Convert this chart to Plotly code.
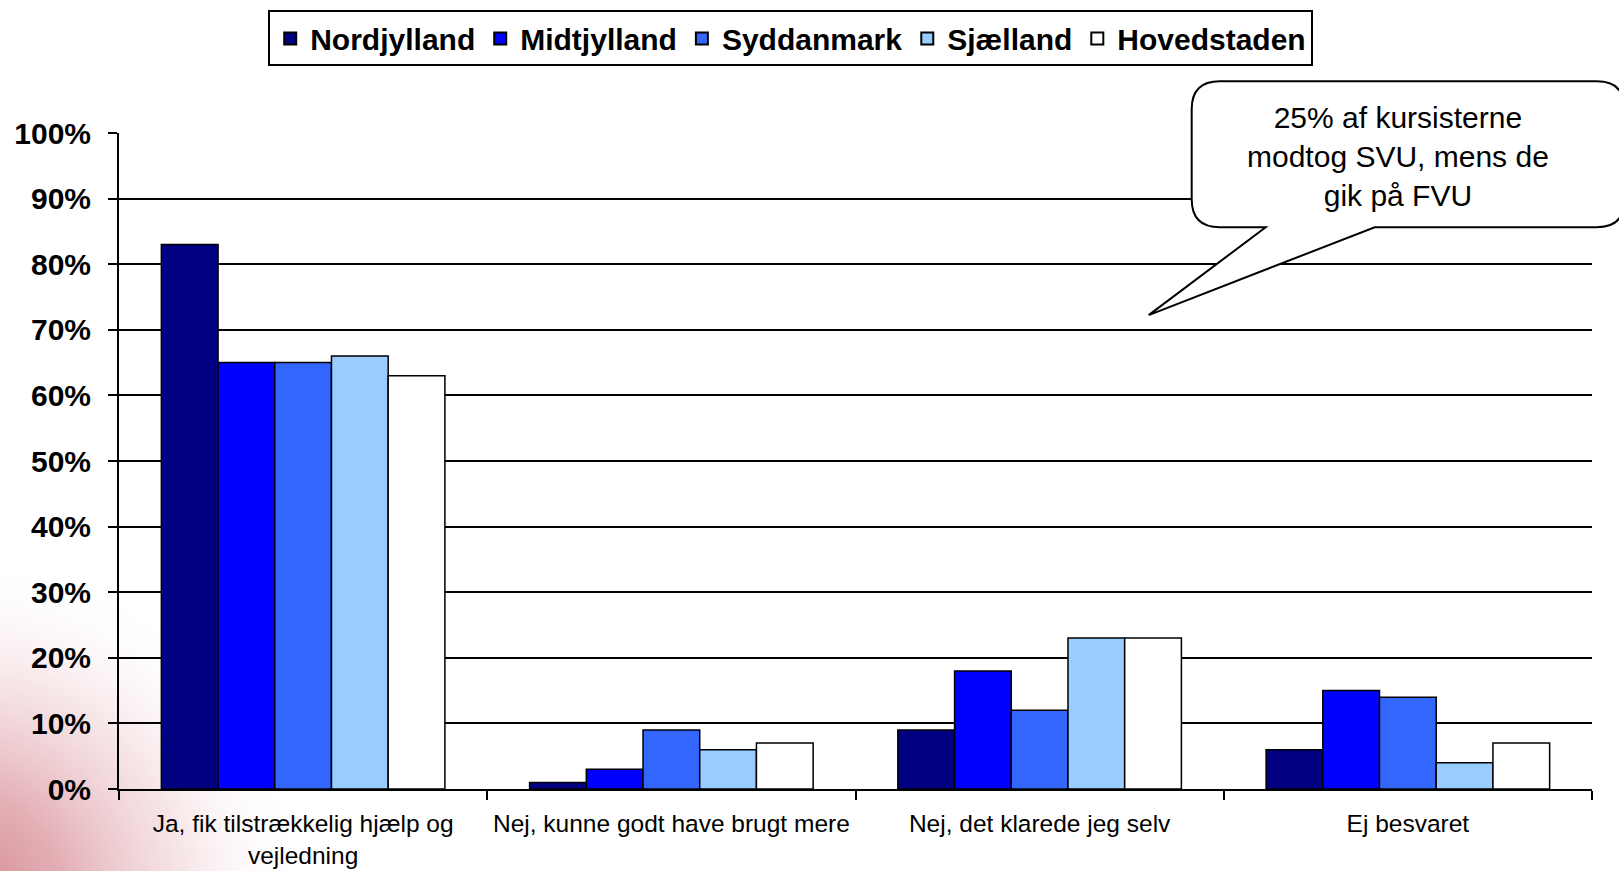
import base64
import plotly.graph_objects as go

categories = [
    "Ja, fik tilstrækkelig hjælp og<br>vejledning",
    "Nej, kunne godt have brugt mere",
    "Nej, det klarede jeg selv",
    "Ej besvaret",
]
regions = ["Nordjylland", "Midtjylland", "Syddanmark", "Sjælland", "Hovedstaden"]
nordjylland = [0.83, 0.01, 0.09, 0.06]
midtjylland = [0.65, 0.03, 0.18, 0.15]
syddanmark = [0.65, 0.09, 0.12, 0.14]
sjaelland = [0.66, 0.06, 0.23, 0.04]
hovedstaden = [0.63, 0.07, 0.23, 0.07]
series_values = [nordjylland, midtjylland, syddanmark, sjaelland, hovedstaden]
colors = ["#000080", "#0000FF", "#3366FF", "#99CCFF", "#FFFFFF"]
y_ticks = [i / 10 for i in range(11)]
callout_text = "25% af kursisterne<br>modtog SVU, mens de<br>gik på FVU"

W, H = 1619, 871
L, R, T, B = 119.3, 1592.3, 132.7, 789.3
PW, PH = R - L, B - T


def px(X):
    return (X - L) / PW


def py(Y):
    return (B - Y) / PH


FONT = "Liberation Sans, Arial, sans-serif"

fig = go.Figure()
for name, vals, col in zip(regions, series_values, colors):
    fig.add_trace(go.Bar(
        name=name, x=categories, y=vals,
        marker=dict(color=col, line=dict(color="black", width=1.5)),
    ))

# background gradient (slide decoration), extended past the page edges
E = 40
svg = f'''<svg xmlns="http://www.w3.org/2000/svg" width="{W + 2 * E}" height="{H + 2 * E}" viewBox="{-E} {-E} {W + 2 * E} {H + 2 * E}">
<defs><radialGradient id="g" cx="-40" cy="900" r="350" gradientUnits="userSpaceOnUse">
<stop offset="0" stop-color="rgb(212,135,144)" stop-opacity="1"/>
<stop offset="0.3" stop-color="rgb(224,165,172)" stop-opacity="0.9"/>
<stop offset="0.65" stop-color="rgb(240,210,214)" stop-opacity="0.55"/>
<stop offset="1" stop-color="rgb(255,255,255)" stop-opacity="0"/>
</radialGradient></defs>
<rect x="{-E}" y="{-E}" width="{W + 2 * E}" height="{H + 2 * E}" fill="white"/>
<rect x="{-E}" y="{-E}" width="{W + 2 * E}" height="{H + 2 * E}" fill="url(#g)"/>
</svg>'''
uri = "data:image/svg+xml;base64," + base64.b64encode(svg.encode()).decode()

shapes = []
# callout bubble
bx0, bx1, by0, by1, r = 1192, 1625, 81, 227, 28
t1, t2, tipx, tipy = 1266, 1375, 1149, 315
pts = [
    ("M", bx0 + r, by0), ("L", bx1 - r, by0), ("Q", bx1, by0, bx1, by0 + r),
    ("L", bx1, by1 - r), ("Q", bx1, by1, bx1 - r, by1), ("L", t2, by1),
    ("L", tipx, tipy), ("L", t1, by1), ("L", bx0 + r, by1),
    ("Q", bx0, by1, bx0, by1 - r), ("L", bx0, by0 + r), ("Q", bx0, by0, bx0 + r, by0),
]
path = ""
for p in pts:
    cmd = p[0]
    coords = p[1:]
    s = []
    for i in range(0, len(coords), 2):
        s.append(f"{px(coords[i]):.5f},{py(coords[i+1]):.5f}")
    path += cmd + " ".join(s) + " "
path += "Z"
shapes.append(dict(type="path", path=path, xref="paper", yref="paper",
                   fillcolor="white", line=dict(color="black", width=2), layer="above"))

fig.update_layout(
    width=W, height=H,
    margin=dict(l=L, r=W - R, t=T, b=H - B, autoexpand=False),
    paper_bgcolor="rgba(0,0,0,0)",
    plot_bgcolor="white",
    barmode="group", bargap=0.23, bargroupgap=0,
    font=dict(family=FONT, color="black"),
    showlegend=True,
    legend=dict(
        orientation="h", x=px(791), xanchor="center", y=py(10), yanchor="top",
        bordercolor="black", borderwidth=2, bgcolor="white",
        font=dict(size=30, family=FONT, color="black", weight="bold"),
        itemsizing="constant", tracegroupgap=0, traceorder="normal",
    ),
    images=[dict(source=uri, xref="paper", yref="paper", x=px(-E), y=py(-E),
                 sizex=(W + 2 * E) / PW, sizey=(H + 2 * E) / PH,
                 xanchor="left", yanchor="top", sizing="stretch", layer="below")],
    shapes=shapes,
    annotations=[dict(text=callout_text, x=px(1398), y=py(156), xref="paper", yref="paper",
                      showarrow=False, xanchor="center", yanchor="middle", align="center",
                      font=dict(size=30, family=FONT, color="black"))],
)
fig.update_xaxes(
    type="category", tickson="boundaries", ticks="outside", ticklen=9,
    tickcolor="black", tickwidth=2, showline=True, linecolor="black", linewidth=2,
    showgrid=False, tickfont=dict(size=24.5, family=FONT, color="black"),
    ticklabelstandoff=12, automargin=False,
)
fig.update_yaxes(
    range=[0, 1], tickvals=y_ticks, tickformat=".0%", ticks="outside", ticklen=9,
    tickcolor="black", tickwidth=2, showline=True, linecolor="black", linewidth=2,
    showgrid=True, gridcolor="black", gridwidth=1.5, zeroline=False,
    tickfont=dict(size=30, family=FONT, color="black", weight="bold"),
    ticklabelstandoff=11, automargin=False,
)

fig.write_html(
    "out.html",
    config={"displayModeBar": False},
    post_script="document.body.style.margin='0';document.body.style.overflow='hidden';",
)
